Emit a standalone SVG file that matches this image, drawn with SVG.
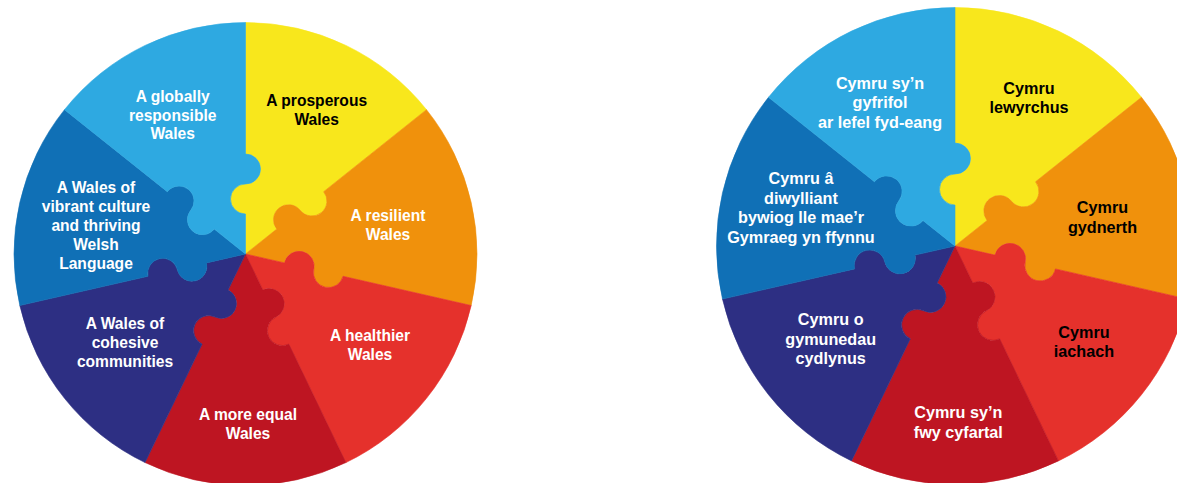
<svg xmlns="http://www.w3.org/2000/svg" width="1177" height="483" viewBox="0 0 1177 483">
<style>
.yel{fill:#F8E71C;stroke:#F8E71C;stroke-width:0.6}
.ora{fill:#F0910C;stroke:#F0910C;stroke-width:0.6}
.red{fill:#E5312C;stroke:#E5312C;stroke-width:0.6}
.dre{fill:#BE1522;stroke:#BE1522;stroke-width:0.6}
.nav{fill:#2D2F83;stroke:#2D2F83;stroke-width:0.6}
.blu{fill:#1070B6;stroke:#1070B6;stroke-width:0.6}
.lbl{fill:#2EA9E1;stroke:#2EA9E1;stroke-width:0.6}
text{font-family:"Liberation Sans",Arial,Helvetica,sans-serif;font-weight:bold;text-anchor:middle}
.lt{font-size:15.6px}
.rt{font-size:16.2px}
.w{fill:#FFFFFF}
.k{fill:#000000}
</style>
<rect width="1177" height="483" fill="#FFFFFF"/>
<g id="left-wheel">
<g id="l-prosperous">
<path class="yel" d="M245.5,254 L245.5,214 A15,15 0 0 1 245.5,184 A15,15 0 0 0 245.5,154 L245.5,22.5 A231.5,231.5 0 0 1 426.49,109.66 L323.68,191.65 A15,15 0 0 1 300.23,210.36 A15,15 0 0 0 276.77,229.06 Z"/>
<text class="lt k" x="316.7"><tspan x="316.7" y="106">A prosperous</tspan><tspan x="316.7" y="125">Wales</tspan></text>
</g>
<g id="l-resilient">
<path class="ora" d="M245.5,254 L276.77,229.06 A15,15 0 0 1 300.23,210.36 A15,15 0 0 0 323.68,191.65 L426.49,109.66 A231.5,231.5 0 0 1 471.20,305.51 L342.99,276.25 A15,15 0 0 1 313.75,269.58 A15,15 0 0 0 284.50,262.90 Z"/>
<text class="lt w"><tspan x="388" y="221.3">A resilient</tspan><tspan x="388" y="240.3">Wales</tspan></text>
</g>
<g id="l-healthier">
<path class="red" d="M245.5,254 L284.50,262.90 A15,15 0 0 1 313.75,269.58 A15,15 0 0 0 342.99,276.25 L471.20,305.51 A231.5,231.5 0 0 1 345.94,462.57 L288.89,344.10 A15,15 0 0 1 275.87,317.07 A15,15 0 0 0 262.86,290.04 Z"/>
<text class="lt w"><tspan x="370" y="341.3">A healthier</tspan><tspan x="370" y="360.3">Wales</tspan></text>
</g>
<g id="l-equal">
<path class="dre" d="M245.5,254 L262.86,290.04 A15,15 0 0 1 275.87,317.07 A15,15 0 0 0 288.89,344.10 L345.94,462.57 A231.5,231.5 0 0 1 145.06,462.57 L202.11,344.10 A15,15 0 0 1 215.13,317.07 A15,15 0 0 0 228.14,290.04 Z"/>
<text class="lt w"><tspan x="248" y="419.7">A more equal</tspan><tspan x="248" y="438.7">Wales</tspan></text>
</g>
<g id="l-cohesive">
<path class="nav" d="M245.5,254 L228.14,290.04 A15,15 0 0 1 215.13,317.07 A15,15 0 0 0 202.11,344.10 L145.06,462.57 A231.5,231.5 0 0 1 19.80,305.51 L148.01,276.25 A15,15 0 0 1 177.25,269.58 A15,15 0 0 0 206.50,262.90 Z"/>
<text class="lt w"><tspan x="125" y="329">A Wales of</tspan><tspan x="125" y="348">cohesive</tspan><tspan x="125" y="367">communities</tspan></text>
</g>
<g id="l-culture">
<path class="blu" d="M245.5,254 L206.50,262.90 A15,15 0 0 1 177.25,269.58 A15,15 0 0 0 148.01,276.25 L19.80,305.51 A231.5,231.5 0 0 1 64.51,109.66 L167.32,191.65 A15,15 0 0 1 190.77,210.36 A15,15 0 0 0 214.23,229.06 Z"/>
<text class="lt w"><tspan x="96" y="192.7">A Wales of</tspan><tspan x="96" y="211.7">vibrant culture</tspan><tspan x="96" y="230.7">and thriving</tspan><tspan x="96" y="249.7">Welsh</tspan><tspan x="96" y="268.7">Language</tspan></text>
</g>
<g id="l-global">
<path class="lbl" d="M245.5,254 L214.23,229.06 A15,15 0 0 1 190.77,210.36 A15,15 0 0 0 167.32,191.65 L64.51,109.66 A231.5,231.5 0 0 1 245.5,22.5 L245.5,154 A15,15 0 0 1 245.5,184 A15,15 0 0 0 245.5,214 Z"/>
<text class="lt w"><tspan x="172.7" y="101.8">A globally</tspan><tspan x="172.7" y="120.5">responsible</tspan><tspan x="172.7" y="139.3">Wales</tspan></text>
</g>
</g>
<g id="right-wheel">
<g id="r-lewyrchus">
<path class="yel" d="M955,246 L955,205 A15.5,15.5 0 0 1 955,174 A15.5,15.5 0 0 0 955,143 L955,7.5 A238.5,238.5 0 0 1 1141.47,97.30 L1035.53,181.78 A15.5,15.5 0 0 1 1011.29,201.11 A15.5,15.5 0 0 0 987.06,220.44 Z"/>
<text class="rt k"><tspan x="1029" y="93.7">Cymru</tspan><tspan x="1029" y="113.4">lewyrchus</tspan></text>
</g>
<g id="r-gydnerth">
<path class="ora" d="M955,246 L987.06,220.44 A15.5,15.5 0 0 1 1011.29,201.11 A15.5,15.5 0 0 0 1035.53,181.78 L1141.47,97.30 A238.5,238.5 0 0 1 1187.52,299.07 L1055.42,268.92 A15.5,15.5 0 0 1 1025.19,262.02 A15.5,15.5 0 0 0 994.97,255.12 Z"/>
<text class="rt k"><tspan x="1102.5" y="213.3">Cymru</tspan><tspan x="1102.5" y="233">gydnerth</tspan></text>
</g>
<g id="r-iachach">
<path class="red" d="M955,246 L994.97,255.12 A15.5,15.5 0 0 1 1025.19,262.02 A15.5,15.5 0 0 0 1055.42,268.92 L1187.52,299.07 A238.5,238.5 0 0 1 1058.48,460.88 L999.69,338.80 A15.5,15.5 0 0 1 986.24,310.87 A15.5,15.5 0 0 0 972.79,282.94 Z"/>
<text class="rt k"><tspan x="1084" y="337.7">Cymru</tspan><tspan x="1084" y="357.4">iachach</tspan></text>
</g>
<g id="r-cyfartal">
<path class="dre" d="M955,246 L972.79,282.94 A15.5,15.5 0 0 1 986.24,310.87 A15.5,15.5 0 0 0 999.69,338.80 L1058.48,460.88 A238.5,238.5 0 0 1 851.52,460.88 L910.31,338.80 A15.5,15.5 0 0 1 923.76,310.87 A15.5,15.5 0 0 0 937.21,282.94 Z"/>
<text class="rt w"><tspan x="958.3" y="418.3">Cymru sy’n</tspan><tspan x="958.3" y="438">fwy cyfartal</tspan></text>
</g>
<g id="r-cydlynus">
<path class="nav" d="M955,246 L937.21,282.94 A15.5,15.5 0 0 1 923.76,310.87 A15.5,15.5 0 0 0 910.31,338.80 L851.52,460.88 A238.5,238.5 0 0 1 722.48,299.07 L854.58,268.92 A15.5,15.5 0 0 1 884.81,262.02 A15.5,15.5 0 0 0 915.03,255.12 Z"/>
<text class="rt w"><tspan x="830.7" y="325">Cymru o</tspan><tspan x="830.7" y="344.7">gymunedau</tspan><tspan x="830.7" y="364.4">cydlynus</tspan></text>
</g>
<g id="r-diwylliant">
<path class="blu" d="M955,246 L915.03,255.12 A15.5,15.5 0 0 1 884.81,262.02 A15.5,15.5 0 0 0 854.58,268.92 L722.48,299.07 A238.5,238.5 0 0 1 768.53,97.30 L874.47,181.78 A15.5,15.5 0 0 1 898.71,201.11 A15.5,15.5 0 0 0 922.94,220.44 Z"/>
<text class="rt w"><tspan x="801" y="184">Cymru â</tspan><tspan x="801" y="203.7">diwylliant</tspan><tspan x="801" y="223.4">bywiog lle mae’r</tspan><tspan x="801" y="243.1">Gymraeg yn ffynnu</tspan></text>
</g>
<g id="r-gyfrifol">
<path class="lbl" d="M955,246 L922.94,220.44 A15.5,15.5 0 0 1 898.71,201.11 A15.5,15.5 0 0 0 874.47,181.78 L768.53,97.30 A238.5,238.5 0 0 1 955,7.5 L955,143 A15.5,15.5 0 0 1 955,174 A15.5,15.5 0 0 0 955,205 Z"/>
<text class="rt w"><tspan x="880" y="88.7">Cymru sy’n</tspan><tspan x="880" y="108.4">gyfrifol</tspan><tspan x="880" y="128.1">ar lefel fyd-eang</tspan></text>
</g>
</g>
<g id="connectors"/>
</svg>
